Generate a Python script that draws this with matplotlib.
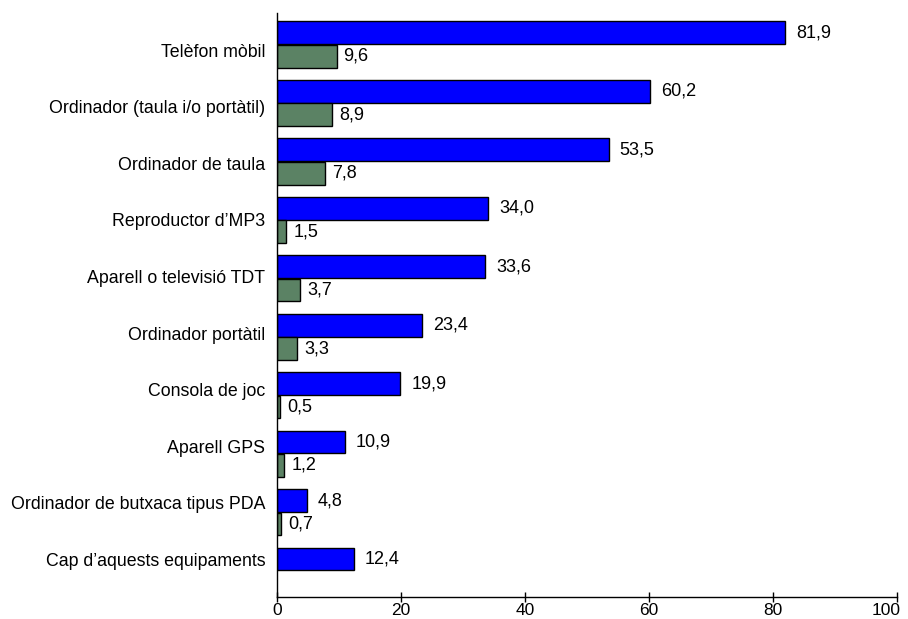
import matplotlib
matplotlib.use("Agg")
import matplotlib.pyplot as plt
import matplotlib.transforms as mtransforms
import numpy as np

plt.rcParams['font.family'] = ['Liberation Sans', 'DejaVu Sans']

# --- Data ---
categories = [
    "Telèfon mòbil",
    "Ordinador (taula i/o portàtil)",
    "Ordinador de taula",
    "Reproductor d’MP3",
    "Aparell o televisió TDT",
    "Ordinador portàtil",
    "Consola de joc",
    "Aparell GPS",
    "Ordinador de butxaca tipus PDA",
    "Cap d’aquests equipaments",
]
blue_values = [81.9, 60.2, 53.5, 34.0, 33.6, 23.4, 19.9, 10.9, 4.8, 12.4]
green_values = [9.6, 8.9, 7.8, 1.5, 3.7, 3.3, 0.5, 1.2, 0.7, None]
x_ticks = [0, 20, 40, 60, 80, 100]

BLUE = "#0000FF"
GREEN = "#5B8264"
FS = 13

fig = plt.figure(figsize=(9.08, 6.19), dpi=100)
ax = fig.add_axes([277 / 908, 1 - 597 / 619, (897 - 277) / 908, (597 - 13) / 619])

y = np.arange(len(categories))
h = 0.39
off = 0.2

def fmt(v):
    return f"{v:.1f}".replace(".", ",")

ax.barh(y - off, blue_values, height=h, color=BLUE, edgecolor="black", linewidth=1)
for yi, v in zip(y, blue_values):
    ax.annotate(fmt(v), (v, yi - off), xytext=(8, 0), textcoords="offset points",
                va="center", ha="left", fontsize=FS)

gy = [yi + off for yi, v in zip(y, green_values) if v is not None]
gv = [v for v in green_values if v is not None]
ax.barh(gy, gv, height=h, color=GREEN, edgecolor="black", linewidth=1)
for yi, v in zip(gy, gv):
    ax.annotate(fmt(v), (v, yi), xytext=(5, 0), textcoords="offset points",
                va="center", ha="left", fontsize=FS)

ax.set_xlim(0, 100)
ax.set_ylim(9.45, -0.54)
ax.set_xticks(x_ticks)
ax.set_xticklabels([str(t) for t in x_ticks], fontsize=12.5)
# category labels sit slightly apart from the bar pairs, as in the source
ax.set_yticks(np.linspace(0.094, 8.81, len(categories)))
ax.set_yticklabels(categories, fontsize=12.8)
ax.tick_params(axis="y", length=0, pad=8.5)
ax.tick_params(axis="x", direction="inout", length=7, width=1, pad=0.5)

# keep the "100" label inside the figure
last = ax.get_xticklabels()[-1]
last.set_transform(last.get_transform() +
                   mtransforms.ScaledTranslation(-11 / 100, 0, fig.dpi_scale_trans))

for s in ["top", "right"]:
    ax.spines[s].set_visible(False)
for s in ["left", "bottom"]:
    ax.spines[s].set_linewidth(1)

fig.savefig("out.png", dpi=100)
